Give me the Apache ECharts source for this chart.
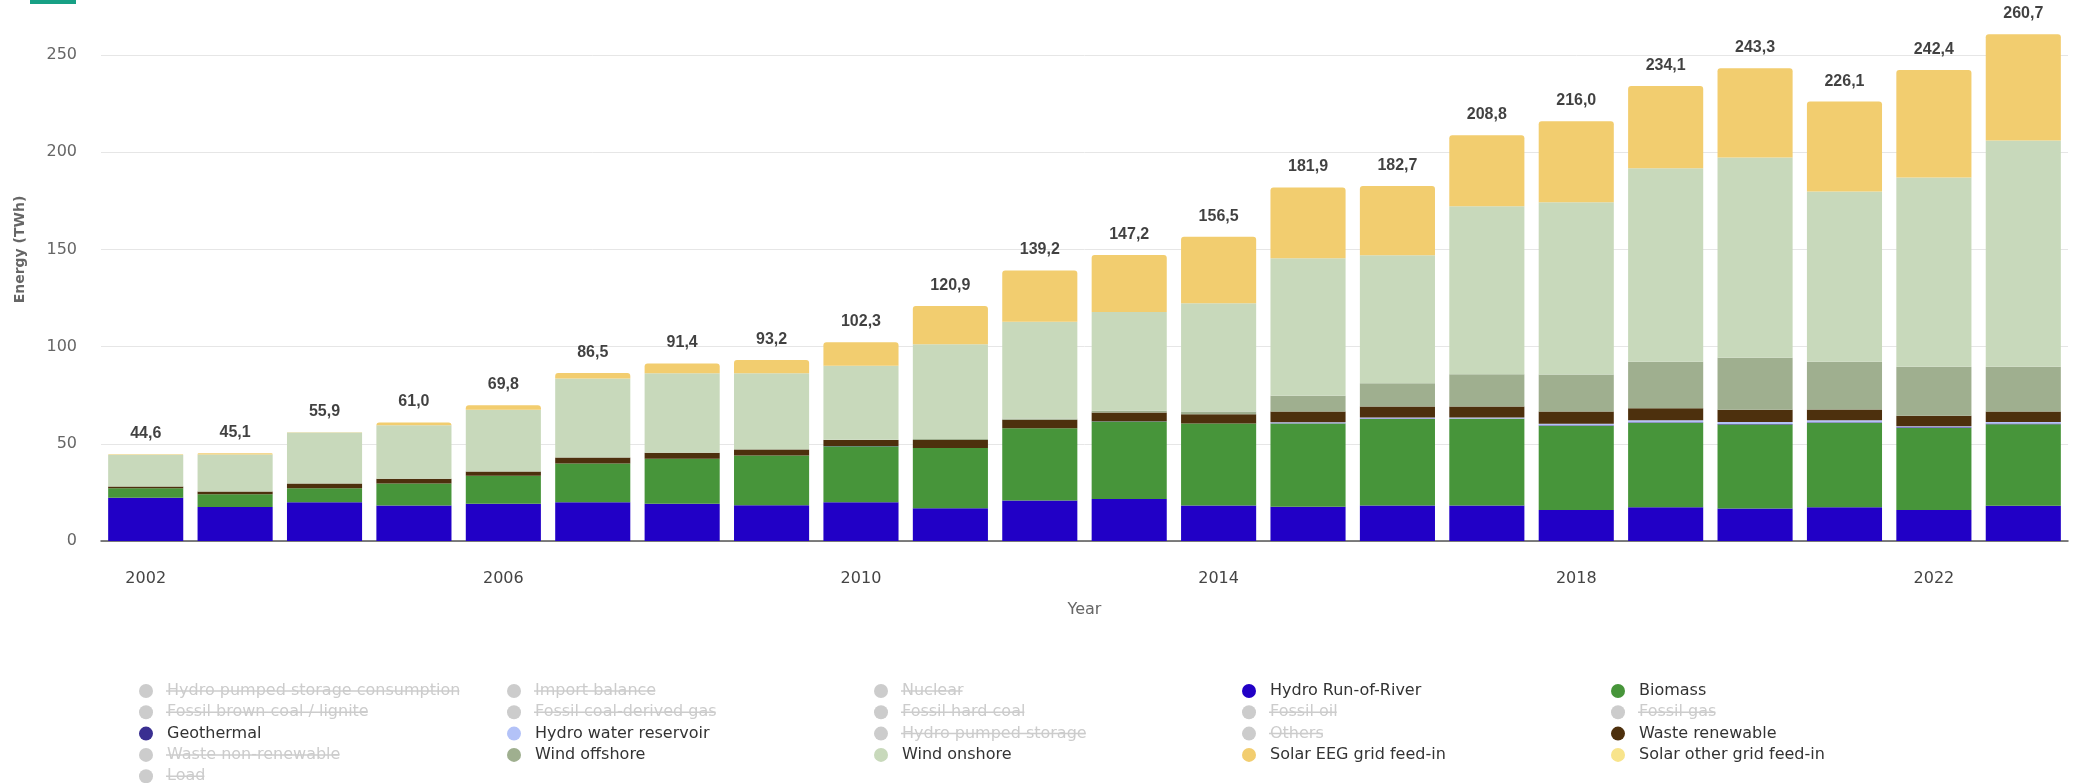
<!DOCTYPE html>
<html>
<head>
<meta charset="utf-8">
<script src="https://cdn.jsdelivr.net/npm/echarts@6/dist/echarts.min.js"></script>
<style>
html,body{margin:0;padding:0;background:#fff;}
#chart{width:2078px;height:783px;}
</style>
</head>
<body>
<div id="chart"></div>
<script>
const years = ['2002','2003','2004','2005','2006','2007','2008','2009','2010','2011','2012','2013','2014','2015','2016','2017','2018','2019','2020','2021','2022','2023'];
const totals = [44.6,45.1,55.9,61.0,69.8,86.5,91.4,93.2,102.3,120.9,139.2,147.2,156.5,181.9,182.7,208.8,216.0,234.1,243.3,226.1,242.4,260.7];
const hydroRunOfRiver = [22.3,17.5,19.9,18.3,19.2,19.9,19.2,18.4,19.9,16.8,20.9,21.6,18.3,17.6,18.3,18.3,16.0,17.4,16.7,17.4,16.0,18.1];
const biomass = [4.9,6.5,7.3,11.3,14.4,20.0,23.1,25.6,28.9,31.1,37.1,39.9,42.1,42.9,44.5,44.6,43.3,43.5,43.3,43.5,42.2,42.0];
const geothermal = [0,0,0,0,0,0,0,0.02,0.03,0.02,0.03,0.08,0.1,0.1,0.2,0.2,0.2,0.2,0.2,0.2,0.3,0.3];
const hydroWaterReservoir = [0,0,0,0,0,0,0,0,0,0,0,0,0,0.5,0.5,0.4,0.8,1.0,1.0,1.0,0.6,0.8];
const wasteRenewable = [0.9,1.5,2.4,2.4,2.2,3.1,3.1,3.1,3.1,4.0,4.3,4.6,4.7,5.5,5.7,5.7,6.3,6.2,6.4,5.6,5.4,5.4];
const windOffshore = [0,0,0,0,0,0,0,0.04,0.2,0.6,0.7,0.9,1.5,8.2,12.0,16.6,19.1,23.9,26.7,24.5,25.2,23.1];
const windOnshore = [16.3,19.0,26.2,27.5,31.8,40.6,40.9,39.2,38.1,48.7,49.8,50.7,55.7,70.7,65.9,86.4,88.6,99.6,103.1,87.6,97.4,116.4];
const solarEEG = [0.2,0.6,0.1,1.5,2.2,2.9,5.1,6.8,12.1,19.7,26.4,29.4,34.1,36.4,35.6,36.6,41.7,42.3,45.9,46.3,55.3,54.6];
const solarOther = [0,0,0,0,0,0,0,0,0,0,0,0,0,0,0,0,0,0,0,0,0,0];

const legendNames = ['Hydro pumped storage consumption','Import balance','Nuclear','Hydro Run-of-River','Biomass',
  'Fossil brown coal / lignite','Fossil coal-derived gas','Fossil hard coal','Fossil oil','Fossil gas',
  'Geothermal','Hydro water reservoir','Hydro pumped storage','Others','Waste renewable',
  'Waste non-renewable','Wind offshore','Wind onshore','Solar EEG grid feed-in','Solar other grid feed-in',
  'Load'];

const activeSeries = {
  'Hydro Run-of-River': {data: hydroRunOfRiver, color: '#2100c6'},
  'Biomass': {data: biomass, color: '#47953a'},
  'Geothermal': {data: geothermal, color: '#3a2f91'},
  'Hydro water reservoir': {data: hydroWaterReservoir, color: '#b3c2f8'},
  'Waste renewable': {data: wasteRenewable, color: '#4d300d'},
  'Wind offshore': {data: windOffshore, color: '#9faf8f'},
  'Wind onshore': {data: windOnshore, color: '#c8d9bb'},
  'Solar EEG grid feed-in': {data: solarEEG, color: '#f2cd6f'},
  'Solar other grid feed-in': {data: solarOther, color: '#f8e48b'}
};

// top-most visible segment per year (for rounded top corners)
const stackOrder = legendNames.filter(n => activeSeries[n]);
const topSeries = years.map((y, i) => {
  let top = null;
  stackOrder.forEach(n => { if (activeSeries[n].data[i] > 0) top = n; });
  return top;
});

const selected = {};
legendNames.forEach(n => { selected[n] = !!activeSeries[n]; });

const series = legendNames.map(n => {
  const a = activeSeries[n];
  if (n === 'Load') {
    return {name: n, type: 'line', data: [], color: '#888'};
  }
  return {
    name: n, type: 'bar', stack: 'total', barCategoryGap: '16%',
    color: a ? a.color : '#999',
    data: a ? a.data.map((v, i) => topSeries[i] === n ? {value: v, itemStyle: {borderRadius: [3,3,0,0]}} : v) : [],
    emphasis: {disabled: true}
  };
});

series.push({
  name: 'Total', type: 'scatter', data: totals, symbolSize: 1,
  itemStyle: {color: 'rgba(0,0,0,0)'}, silent: true, z: 10,
  label: {show: true, position: 'top', distance: 12, color: '#111', fontFamily: 'Liberation Sans', fontSize: 16, fontWeight: 'bold',
    formatter: p => p.value.toFixed(1).replace('.', ',')}
});

const colCenters = [145, 513, 880, 1248, 1617];
const legendTop = 683, rowPitch = 21.3;
const legends = colCenters.map((cx, c) => ({
  orient: 'vertical', left: cx - 6, top: legendTop, padding: 0, height: 120,
  itemWidth: 32, itemHeight: 14, itemGap: rowPitch - 16, icon: 'circle',
  inactiveColor: '#cccccc', selected: selected, selectedMode: true,
  textStyle: {fontFamily: 'DejaVu Sans', fontSize: 16, lineHeight: 16, color: '#333'},
  data: legendNames.filter((n, i) => i % 5 === c)
}));

// strike-through decoration for hidden legend entries
const ctx = document.createElement('canvas').getContext('2d');
ctx.font = '16px "DejaVu Sans"';
const strikes = [];
legendNames.forEach((n, i) => {
  if (selected[n]) return;
  const c = i % 5, r = Math.floor(i / 5);
  const x1 = colCenters[c] + 21;
  const y = legendTop + 8 + r * rowPitch;
  strikes.push({type: 'line', silent: true, z: 100,
    shape: {x1: x1, y1: y, x2: x1 + ctx.measureText(n).width, y2: y},
    style: {stroke: '#cccccc', lineWidth: 1.5}});
});

const chart = echarts.init(document.getElementById('chart'), null, {renderer: 'canvas'});
chart.setOption({
  animation: false,
  backgroundColor: '#ffffff',
  grid: {left: 101, right: 10, top: -42, bottom: 242, containLabel: false, outerBoundsMode: 'none'},
  legend: legends,
  xAxis: {
    type: 'category', data: years, name: 'Year', nameLocation: 'middle', nameGap: 61,
    nameTextStyle: {fontFamily: 'DejaVu Sans', fontSize: 16, color: '#666'},
    axisLine: {lineStyle: {color: '#555', width: 1.5}},
    axisTick: {show: false},
    axisLabel: {interval: 3, margin: 30, fontFamily: 'DejaVu Sans', fontSize: 16, color: '#444'}
  },
  yAxis: {
    type: 'value', min: 0, max: 300, interval: 50,
    name: 'Energy (TWh)', nameLocation: 'middle', nameGap: 74,
    nameTextStyle: {fontFamily: 'DejaVu Sans', fontSize: 14, fontWeight: 'bold', color: '#666'},
    axisLine: {show: false}, axisTick: {show: false},
    splitLine: {lineStyle: {color: '#e6e6e6', width: 1}},
    axisLabel: {margin: 24, showMaxLabel: false, fontFamily: 'DejaVu Sans', fontSize: 16, color: '#666'}
  },
  series: series,
  graphic: [{type: 'rect', left: 30, top: 0, shape: {width: 46, height: 4}, style: {fill: '#17a085'}, silent: true}].concat(strikes)
});
</script>
</body>
</html>
